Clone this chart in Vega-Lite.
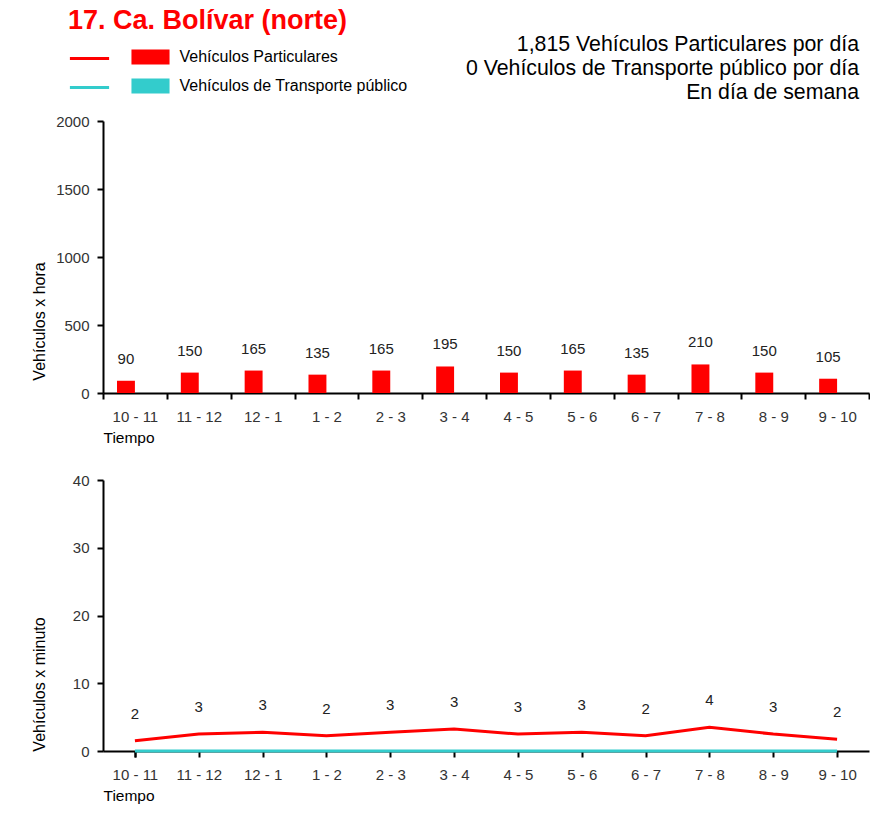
{
  "$schema": "https://vega.github.io/schema/vega-lite/v6.json",
  "background": "white",
  "padding": {"left": 31, "top": 6, "right": 0, "bottom": 0},
  "title": {"text": "17. Ca. Bolívar (norte)", "anchor": "start", "frame": "group", "color": "#FF0000", "fontSize": 27, "fontWeight": "bold", "font": "Liberation Sans", "dx": -35, "offset": -1},
  "datasets": {
    "hora": [
      {"tiempo": "10 - 11", "tipo": "Vehículos Particulares", "vph": 90},
      {"tiempo": "11 - 12", "tipo": "Vehículos Particulares", "vph": 150},
      {"tiempo": "12 - 1", "tipo": "Vehículos Particulares", "vph": 165},
      {"tiempo": "1 - 2", "tipo": "Vehículos Particulares", "vph": 135},
      {"tiempo": "2 - 3", "tipo": "Vehículos Particulares", "vph": 165},
      {"tiempo": "3 - 4", "tipo": "Vehículos Particulares", "vph": 195},
      {"tiempo": "4 - 5", "tipo": "Vehículos Particulares", "vph": 150},
      {"tiempo": "5 - 6", "tipo": "Vehículos Particulares", "vph": 165},
      {"tiempo": "6 - 7", "tipo": "Vehículos Particulares", "vph": 135},
      {"tiempo": "7 - 8", "tipo": "Vehículos Particulares", "vph": 210},
      {"tiempo": "8 - 9", "tipo": "Vehículos Particulares", "vph": 150},
      {"tiempo": "9 - 10", "tipo": "Vehículos Particulares", "vph": 105},
      {"tiempo": "10 - 11", "tipo": "Vehículos de Transporte público", "vph": 0},
      {"tiempo": "11 - 12", "tipo": "Vehículos de Transporte público", "vph": 0},
      {"tiempo": "12 - 1", "tipo": "Vehículos de Transporte público", "vph": 0},
      {"tiempo": "1 - 2", "tipo": "Vehículos de Transporte público", "vph": 0},
      {"tiempo": "2 - 3", "tipo": "Vehículos de Transporte público", "vph": 0},
      {"tiempo": "3 - 4", "tipo": "Vehículos de Transporte público", "vph": 0},
      {"tiempo": "4 - 5", "tipo": "Vehículos de Transporte público", "vph": 0},
      {"tiempo": "5 - 6", "tipo": "Vehículos de Transporte público", "vph": 0},
      {"tiempo": "6 - 7", "tipo": "Vehículos de Transporte público", "vph": 0},
      {"tiempo": "7 - 8", "tipo": "Vehículos de Transporte público", "vph": 0},
      {"tiempo": "8 - 9", "tipo": "Vehículos de Transporte público", "vph": 0},
      {"tiempo": "9 - 10", "tipo": "Vehículos de Transporte público", "vph": 0}
    ],
    "minuto": [
      {"tiempo": "10 - 11", "tipo": "Vehículos Particulares", "vpm": 1.5},
      {"tiempo": "11 - 12", "tipo": "Vehículos Particulares", "vpm": 2.5},
      {"tiempo": "12 - 1", "tipo": "Vehículos Particulares", "vpm": 2.75},
      {"tiempo": "1 - 2", "tipo": "Vehículos Particulares", "vpm": 2.25},
      {"tiempo": "2 - 3", "tipo": "Vehículos Particulares", "vpm": 2.75},
      {"tiempo": "3 - 4", "tipo": "Vehículos Particulares", "vpm": 3.25},
      {"tiempo": "4 - 5", "tipo": "Vehículos Particulares", "vpm": 2.5},
      {"tiempo": "5 - 6", "tipo": "Vehículos Particulares", "vpm": 2.75},
      {"tiempo": "6 - 7", "tipo": "Vehículos Particulares", "vpm": 2.25},
      {"tiempo": "7 - 8", "tipo": "Vehículos Particulares", "vpm": 3.5},
      {"tiempo": "8 - 9", "tipo": "Vehículos Particulares", "vpm": 2.5},
      {"tiempo": "9 - 10", "tipo": "Vehículos Particulares", "vpm": 1.75},
      {"tiempo": "10 - 11", "tipo": "Vehículos de Transporte público", "vpm": 0},
      {"tiempo": "11 - 12", "tipo": "Vehículos de Transporte público", "vpm": 0},
      {"tiempo": "12 - 1", "tipo": "Vehículos de Transporte público", "vpm": 0},
      {"tiempo": "1 - 2", "tipo": "Vehículos de Transporte público", "vpm": 0},
      {"tiempo": "2 - 3", "tipo": "Vehículos de Transporte público", "vpm": 0},
      {"tiempo": "3 - 4", "tipo": "Vehículos de Transporte público", "vpm": 0},
      {"tiempo": "4 - 5", "tipo": "Vehículos de Transporte público", "vpm": 0},
      {"tiempo": "5 - 6", "tipo": "Vehículos de Transporte público", "vpm": 0},
      {"tiempo": "6 - 7", "tipo": "Vehículos de Transporte público", "vpm": 0},
      {"tiempo": "7 - 8", "tipo": "Vehículos de Transporte público", "vpm": 0},
      {"tiempo": "8 - 9", "tipo": "Vehículos de Transporte público", "vpm": 0},
      {"tiempo": "9 - 10", "tipo": "Vehículos de Transporte público", "vpm": 0}
    ]
  },
  "spacing": 87,
  "bounds": "flush",
  "vconcat": [
    {
      "width": 766,
      "height": 272,
      "title": {"text": ["1,815 Vehículos Particulares por día", "0 Vehículos de Transporte público por día", "En día de semana"], "anchor": "end", "fontSize": 21.3, "fontWeight": "normal", "lineHeight": 24, "dx": -11, "offset": 11, "color": "black", "font": "Liberation Sans"},
      "data": {"name": "hora"},
      "layer": [
        {
          "mark": {"type": "bar"},
          "encoding": {
            "x": {"field": "tiempo", "type": "nominal", "scale": {"domain": ["10 - 11", "11 - 12", "12 - 1", "1 - 2", "2 - 3", "3 - 4", "4 - 5", "5 - 6", "6 - 7", "7 - 8", "8 - 9", "9 - 10"], "paddingInner": 0, "paddingOuter": 0}, "axis": {"title": "Tiempo"}},
            "xOffset": {"field": "tipo", "type": "nominal", "scale": {"paddingInner": 0, "paddingOuter": 0.78}},
            "y": {"field": "vph", "type": "quantitative", "scale": {"domain": [0, 2000]}, "axis": {"title": "Vehículos x hora", "values": [0, 500, 1000, 1500, 2000], "format": "d", "titleY": 200, "titleX": -59}},
            "color": {"field": "tipo", "type": "nominal", "scale": {"range": ["#FF0000", "#33CCCC"]}, "legend": {"orient": "none", "legendX": 33.5, "legendY": -78, "title": null, "symbolType": "M-1.36,-0.54H1.36V0.54H-1.36Z", "symbolSize": 784, "symbolStrokeWidth": 0, "labelFontSize": 16, "labelOffset": 15, "labelLimit": 400, "labelColor": "black", "labelFont": "Liberation Sans", "rowPadding": 7, "padding": 0, "symbolOpacity": 1}}
          }
        },
        {
          "transform": [{"filter": "datum.tipo == 'Vehículos Particulares'"}],
          "mark": {"type": "text", "dy": -22, "fontSize": 15, "baseline": "middle", "color": "#222", "font": "Liberation Sans"},
          "encoding": {
            "x": {"field": "tiempo", "type": "nominal"},
            "xOffset": {"field": "tipo", "type": "nominal"},
            "y": {"field": "vph", "type": "quantitative"},
            "text": {"field": "vph", "type": "quantitative"}
          }
        }
      ]
    },
    {
      "width": 766,
      "height": 271,
      "data": {"name": "minuto"},
      "layer": [
        {
          "mark": {"type": "line", "strokeWidth": 3},
          "encoding": {
            "x": {"field": "tiempo", "type": "nominal", "scale": {"domain": ["10 - 11", "11 - 12", "12 - 1", "1 - 2", "2 - 3", "3 - 4", "4 - 5", "5 - 6", "6 - 7", "7 - 8", "8 - 9", "9 - 10"], "paddingInner": 0, "paddingOuter": 0}, "axis": {"title": "Tiempo"}},
            "y": {"field": "vpm", "type": "quantitative", "scale": {"domain": [0, 40]}, "axis": {"title": "Vehículos x minuto", "values": [0, 10, 20, 30, 40], "format": "d", "titleY": 204, "titleX": -59}},
            "stroke": {"field": "tipo", "type": "nominal", "scale": {"range": ["#FF0000", "#33CCCC"]}, "legend": {"orient": "none", "legendX": -29, "legendY": -78, "title": null, "symbolType": "M-1.4,0H1.4", "symbolSize": 784, "symbolStrokeWidth": 3, "labelExpr": "''", "rowPadding": 7, "padding": 0}}
          }
        },
        {
          "transform": [{"filter": "datum.tipo == 'Vehículos Particulares'"}],
          "mark": {"type": "text", "dy": -27, "fontSize": 15, "baseline": "middle", "color": "#222", "font": "Liberation Sans"},
          "encoding": {
            "x": {"field": "tiempo", "type": "nominal"},
            "y": {"field": "vpm", "type": "quantitative"},
            "text": {"field": "vpm", "type": "quantitative", "format": ".0f"}
          }
        }
      ]
    }
  ],
  "config": {
    "font": "Liberation Sans",
    "view": {"stroke": null},
    "axis": {"domainColor": "black", "domainWidth": 2, "tickColor": "black", "tickWidth": 2, "tickSize": 6, "labelFont": "Liberation Sans", "labelFontSize": 15, "labelColor": "#333", "titleFont": "Liberation Sans", "titleFontSize": 15.5, "titleFontWeight": "normal", "titleColor": "black", "grid": false},
    "axisX": {"labelAngle": 0, "tickBand": "extent", "labelPadding": 10, "titleAnchor": "start", "titleAlign": "left", "titlePadding": 6},
    "axisY": {"labelPadding": 8, "titleBaseline": "alphabetic", "titleAlign": "center", "titleAngle": -90, "titleFontSize": 16}
  }
}
